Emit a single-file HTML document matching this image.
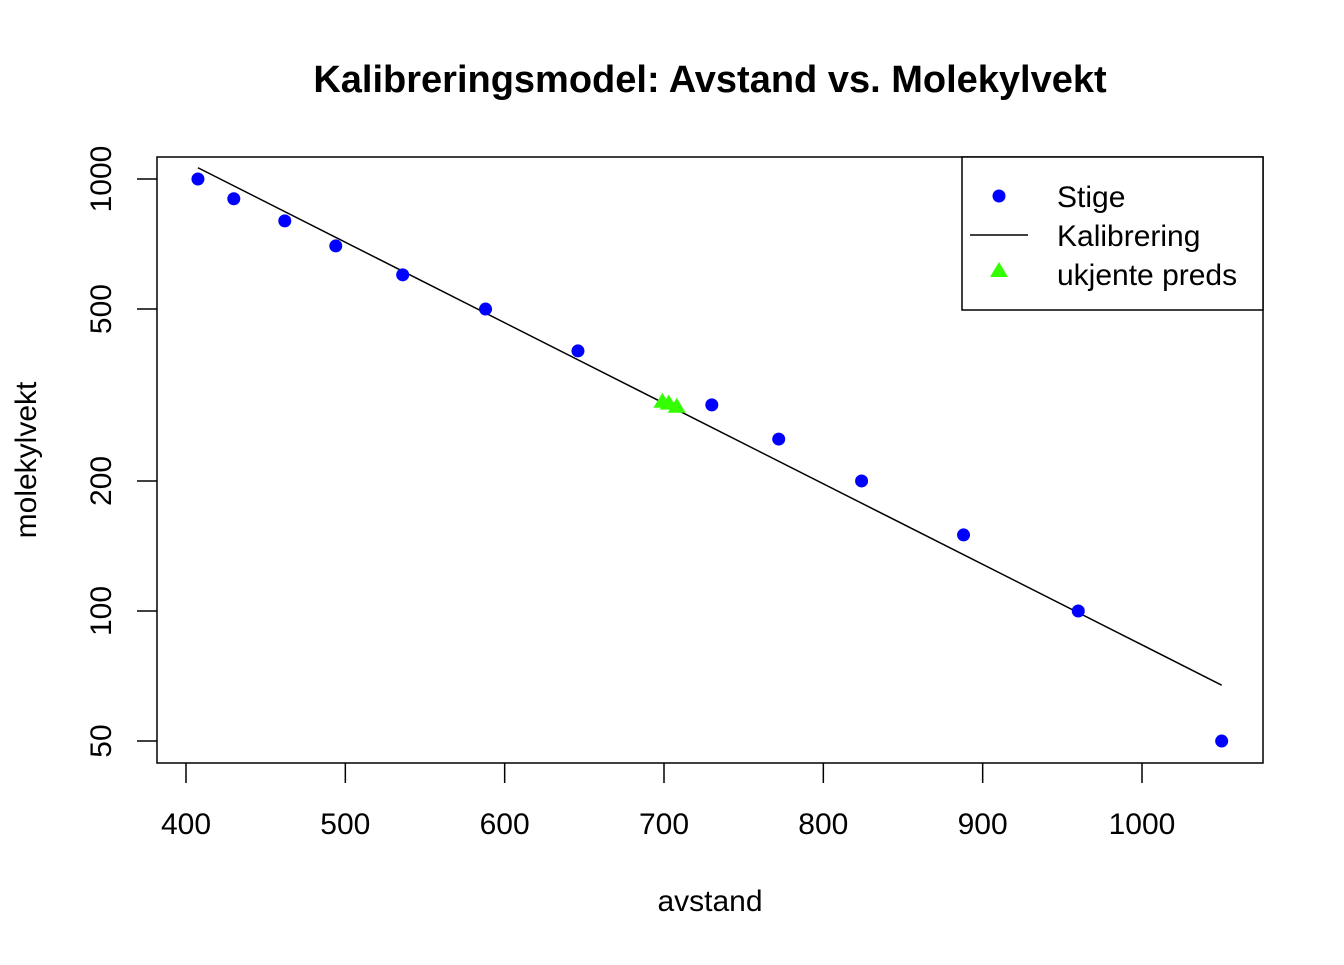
<!DOCTYPE html>
<html><head><meta charset="utf-8"><style>
body{margin:0;background:#fff}
svg{font-family:"Liberation Sans",Arial,sans-serif}
</style></head><body>
<svg id="c" width="1344" height="960" xmlns="http://www.w3.org/2000/svg">
<text x="710" y="92" text-anchor="middle" font-size="38" font-weight="bold">Kalibreringsmodel: Avstand vs. Molekylvekt</text>
<rect x="157" y="157" width="1106" height="606" fill="none" stroke="#000" stroke-width="1.5"/>
<text x="710" y="911" text-anchor="middle" font-size="30">avstand</text>
<text transform="translate(36,460) rotate(-90)" text-anchor="middle" font-size="30">molekylvekt</text>
<g id="axes"></g><g id="marks"></g>
<g>
<rect x="962" y="157" width="301" height="153" fill="#fff" stroke="#000" stroke-width="1.5"/>
<circle cx="999" cy="196" r="6.5" fill="#0000ff"/>
<text x="1057" y="207" font-size="30">Stige</text>
<line x1="970" y1="235" x2="1028" y2="235" stroke="#000" stroke-width="1.5"/>
<text x="1057" y="246" font-size="30">Kalibrering</text>
<polygon points="999,262 1008,277 990,277" fill="#33ff00"/>
<text x="1057" y="285" font-size="30">ukjente preds</text>
</g>
</svg>
<script>
const stigeX=[407.5,430,462,494,536,588,646,730,772,824,888,960,1050];
const stigeY=[1000,900,800,700,600,500,400,300,250,200,150,100,50];
const predX=[699,703,708];
const predY=[305,302,297];
const xTicks=[400,500,600,700,800,900,1000];
const yTicks=[50,100,200,500,1000];
const NS="http://www.w3.org/2000/svg";
const sx=v=>186+(v-400)*956/600;
const sy=v=>179+(3-Math.log10(v))*432;
function mk(t,a,p){const e=document.createElementNS(NS,t);for(const k in a)e.setAttribute(k,a[k]);p.appendChild(e);return e;}
const ax=document.getElementById('axes'),mg=document.getElementById('marks');
xTicks.forEach(t=>{mk('line',{x1:sx(t),x2:sx(t),y1:763,y2:783,stroke:'#000','stroke-width':1.5},ax);
 const e=mk('text',{x:sx(t),y:834,'text-anchor':'middle','font-size':30},ax);e.textContent=t;
 
 });
yTicks.forEach(t=>{mk('line',{x1:137,x2:157,y1:sy(t),y2:sy(t),stroke:'#000','stroke-width':1.5},ax);
 const e=mk('text',{transform:`translate(111,${sy(t)}) rotate(-90)`,'text-anchor':'middle','font-size':30},ax);e.textContent=t;
 
 });
const n=stigeX.length,ly=stigeY.map(Math.log10);
const mx=stigeX.reduce((a,b)=>a+b)/n,my=ly.reduce((a,b)=>a+b)/n;
let sxy=0,sxx=0;for(let i=0;i<n;i++){sxy+=(stigeX[i]-mx)*(ly[i]-my);sxx+=(stigeX[i]-mx)**2;}
const b=sxy/sxx,a=my-b*mx;
const x0=Math.min(...stigeX),x1=Math.max(...stigeX);
const ln=mk('line',{x1:sx(x0),y1:sy(10**(a+b*x0)),x2:sx(x1),y2:sy(10**(a+b*x1)),stroke:'#000','stroke-width':1.5},mg);


stigeX.forEach((x,i)=>{const c=mk('circle',{cx:sx(x),cy:sy(stigeY[i]),r:6.5,fill:'#0000ff'},mg);
 
 });
predX.forEach((x,i)=>{const X=sx(x),Y=sy(predY[i]);
 const p=mk('polygon',{points:`${X},${Y-9} ${X+9},${Y+6} ${X-9},${Y+6}`,fill:'#33ff00'},mg);
 
 });
</script>
</body></html>
